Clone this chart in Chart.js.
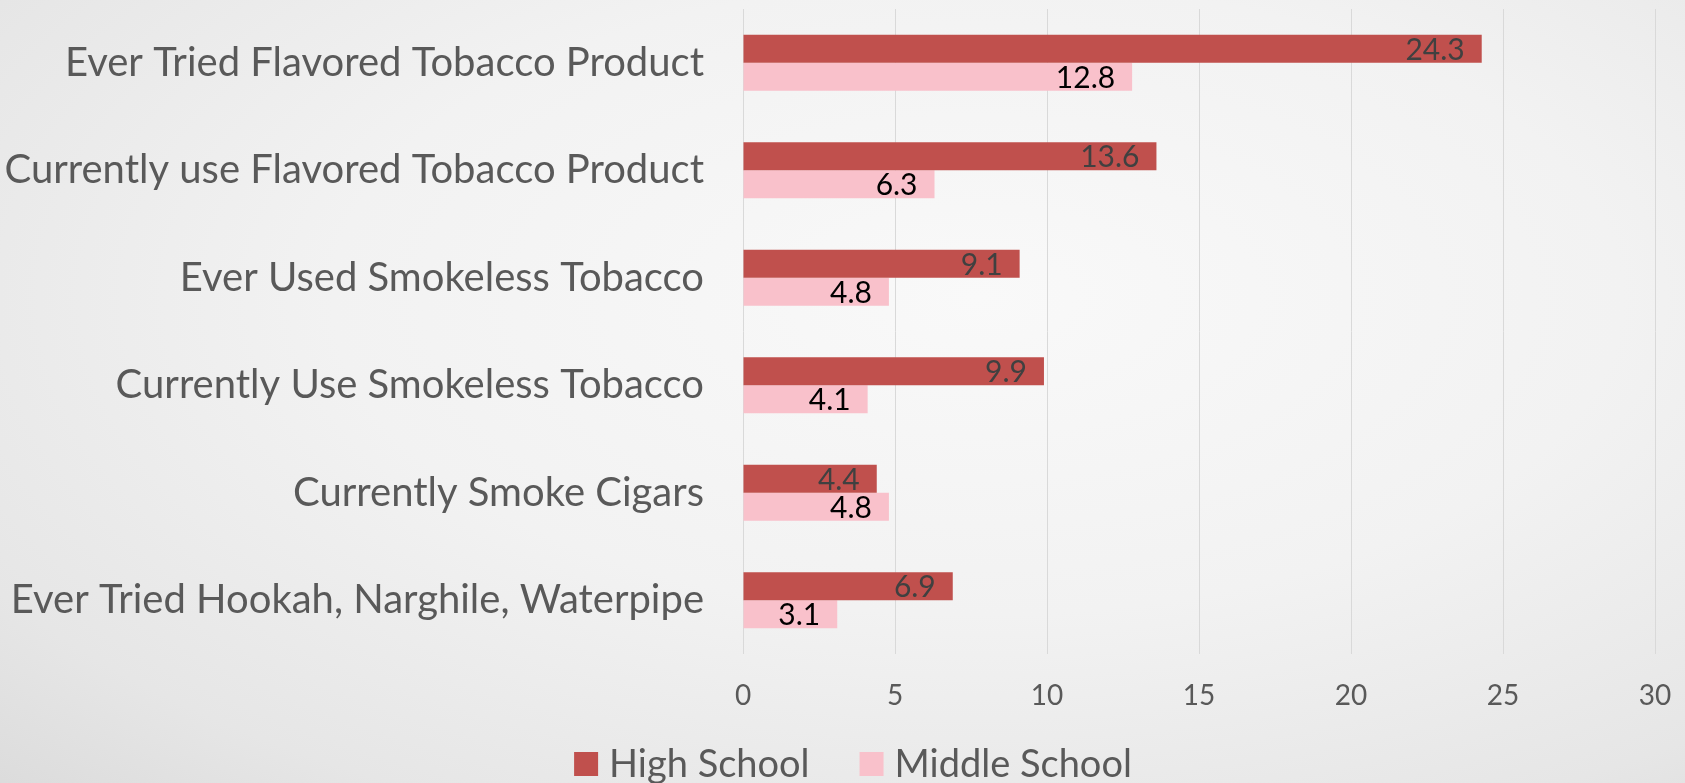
<!DOCTYPE html>
<html>
<head>
<meta charset="utf-8">
<title>Tobacco use: High School vs Middle School</title>
<script src="https://cdn.jsdelivr.net/npm/chart.js@4.4.1/dist/chart.umd.min.js"></script>
<style>
  html, body {
    margin: 0;
    padding: 0;
    width: 1685px;
    height: 783px;
    overflow: hidden;
    background: radial-gradient(ellipse 85% 90% at 58% 38%, #f9f9f9 0%, #f2f2f2 45%, #e6e6e6 80%, #dadada 100%);
  }
  canvas { display: block; }
</style>
</head>
<body>
<canvas id="chart" width="1685" height="783"></canvas>
<script>
// categories, top to bottom
const categories = [
  'Ever Tried Flavored Tobacco Product',
  'Currently use Flavored Tobacco Product',
  'Ever Used Smokeless Tobacco',
  'Currently Use Smokeless Tobacco',
  'Currently Smoke Cigars',
  'Ever Tried Hookah, Narghile, Waterpipe',
];

const highSchool = [24.3, 13.6, 9.1, 9.9, 4.4, 6.9];
const middleSchool = [12.8, 6.3, 4.8, 4.1, 4.8, 3.1];

const xTicks = [0, 5, 10, 15, 20, 25, 30];

const FONT = 'Lato, "Open Sans", sans-serif';
const LEGEND_SPACE = 64; // reserved under the x axis for the legend

// value labels at the inside end of every bar (Excel style)
const barValueLabels = {
  id: 'barValueLabels',
  afterDatasetsDraw(chart) {
    const { ctx } = chart;
    ctx.save();
    ctx.font = `30px ${FONT}`;
    ctx.textAlign = 'right';
    ctx.textBaseline = 'alphabetic';
    chart.data.datasets.forEach((ds, i) => {
      const meta = chart.getDatasetMeta(i);
      ctx.fillStyle = ds.labelColor;
      meta.data.forEach((bar, j) => {
        const bottom = bar.y + bar.height / 2;
        ctx.fillText(String(ds.data[j]), bar.x - 17, bottom - 3);
      });
    });
    ctx.restore();
  },
};

// legend drawn by hand so the gaps match the original slide
const bottomLegend = {
  id: 'bottomLegend',
  afterDraw(chart) {
    const { ctx } = chart;
    const box = 24, boxGap = 11, itemGap = 50;
    ctx.save();
    ctx.font = `38px ${FONT}`;
    ctx.textBaseline = 'middle';
    const items = chart.data.datasets.map((ds) => ({
      text: ds.label,
      color: ds.backgroundColor,
      w: box + boxGap + ctx.measureText(ds.label).width,
    }));
    const total = items.reduce((a, it) => a + it.w, 0) + itemGap * (items.length - 1);
    let x = 853 - total / 2;
    const cy = 764;
    items.forEach((it) => {
      ctx.fillStyle = it.color;
      ctx.fillRect(x, cy - box / 2, box, box);
      ctx.fillStyle = '#595959';
      ctx.fillText(it.text, x + box + boxGap, cy + 1);
      x += it.w + itemGap;
    });
    ctx.restore();
  },
};

new Chart(document.getElementById('chart'), {
  type: 'bar',
  data: {
    labels: categories,
    datasets: [
      {
        label: 'High School',
        data: highSchool,
        backgroundColor: '#c0504d',
        labelColor: '#404040',
      },
      {
        label: 'Middle School',
        data: middleSchool,
        backgroundColor: '#f9c1cb',
        labelColor: '#000000',
      },
    ],
  },
  options: {
    indexAxis: 'y',
    responsive: false,
    animation: false,
    layout: { padding: { top: 9, right: 30, left: 0, bottom: LEGEND_SPACE } },
    datasets: {
      bar: { categoryPercentage: 0.52, barPercentage: 1.0 },
    },
    plugins: {
      tooltip: { enabled: false },
      legend: { display: false },
    },
    scales: {
      x: {
        min: 0,
        max: 30,
        afterBuildTicks(scale) {
          scale.ticks = xTicks.map((v) => ({ value: v }));
        },
        afterFit(scale) {
          scale.height = 783 - 654 - LEGEND_SPACE;
          scale.paddingLeft = 0;
          scale.paddingRight = 0;
        },
        grid: { color: '#d9d9d9', lineWidth: 1, drawTicks: false },
        border: { display: false },
        ticks: {
          padding: 25,
          color: '#595959',
          font: { family: FONT, size: 28 },
        },
      },
      y: {
        afterFit(scale) {
          scale.width = 743;
          scale.paddingTop = 0;
          scale.paddingBottom = 0;
        },
        grid: { display: false, drawTicks: false },
        border: { display: false },
        ticks: {
          padding: 39,
          color: '#595959',
          font: { family: FONT, size: 40 },
        },
      },
    },
  },
  plugins: [barValueLabels, bottomLegend],
});
</script>
</body>
</html>
